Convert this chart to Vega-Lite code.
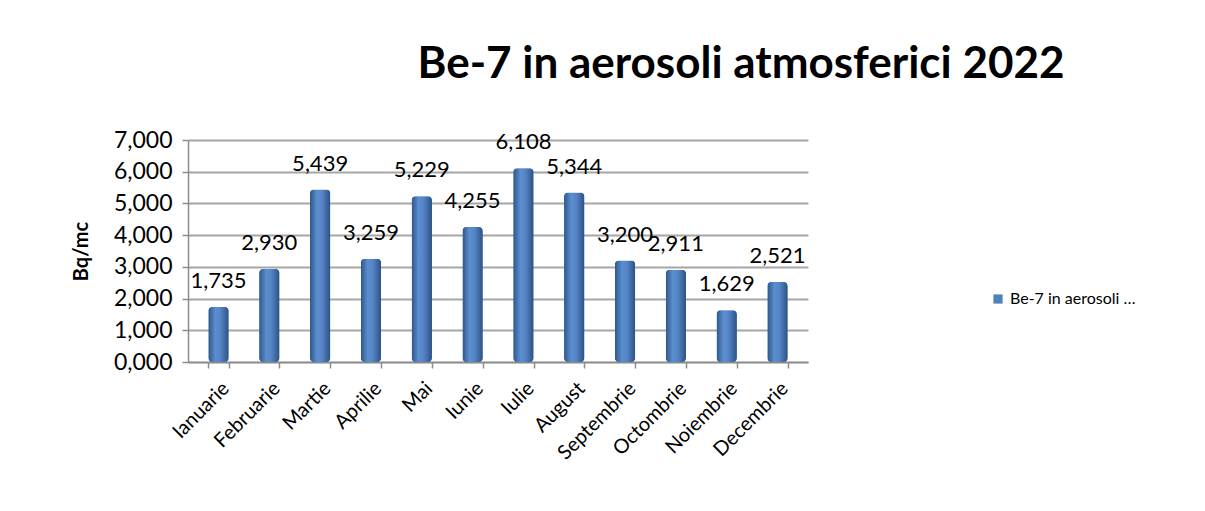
{
  "$schema": "https://vega.github.io/schema/vega-lite/v6.json",
  "autosize": {"type": "none"},
  "width": 620,
  "height": 222,
  "padding": {"left": 188, "top": 140, "right": 397, "bottom": 149},
  "background": "white",
  "config": {
    "locale": {"number": {"decimal": ",", "thousands": ".", "grouping": [3], "currency": ["", ""]}},
    "font": "Lato",
    "view": {"stroke": null}
  },
  "title": {
    "text": "Be-7 in aerosoli atmosferici 2022",
    "font": "Lato",
    "fontSize": 44,
    "fontWeight": "bold",
    "color": "black",
    "anchor": "middle",
    "frame": "group",
    "dx": 243,
    "offset": 42
  },
  "data": {
    "values": [
      {"luna": "Ianuarie", "valoare": 1.735, "serie": "Be-7 in aerosoli atmosferici 2022"},
      {"luna": "Februarie", "valoare": 2.930, "serie": "Be-7 in aerosoli atmosferici 2022"},
      {"luna": "Martie", "valoare": 5.439, "serie": "Be-7 in aerosoli atmosferici 2022"},
      {"luna": "Aprilie", "valoare": 3.259, "serie": "Be-7 in aerosoli atmosferici 2022"},
      {"luna": "Mai", "valoare": 5.229, "serie": "Be-7 in aerosoli atmosferici 2022"},
      {"luna": "Iunie", "valoare": 4.255, "serie": "Be-7 in aerosoli atmosferici 2022"},
      {"luna": "Iulie", "valoare": 6.108, "serie": "Be-7 in aerosoli atmosferici 2022"},
      {"luna": "August", "valoare": 5.344, "serie": "Be-7 in aerosoli atmosferici 2022"},
      {"luna": "Septembrie", "valoare": 3.200, "serie": "Be-7 in aerosoli atmosferici 2022"},
      {"luna": "Octombrie", "valoare": 2.911, "serie": "Be-7 in aerosoli atmosferici 2022"},
      {"luna": "Noiembrie", "valoare": 1.629, "serie": "Be-7 in aerosoli atmosferici 2022"},
      {"luna": "Decembrie", "valoare": 2.521, "serie": "Be-7 in aerosoli atmosferici 2022"}
    ]
  },
  "encoding": {
    "x": {
      "field": "luna",
      "type": "nominal",
      "sort": null,
      "scale": {"paddingInner": 0.6, "paddingOuter": 0.4},
      "axis": {
        "title": null,
        "labelAngle": -45,
        "labelFontSize": 20,
        "labelColor": "black",
        "labelFont": "Lato",
        "domainColor": "#8c8c8c",
        "domainWidth": 1.5,
        "tickColor": "#8c8c8c",
        "tickSize": 6,
        "tickWidth": 1.5,
        "tickBand": "extent",
        "labelPadding": 10
      }
    },
    "y": {
      "field": "valoare",
      "type": "quantitative",
      "scale": {"domain": [0, 7]},
      "axis": {
        "title": "Bq/mc",
        "titleFontSize": 20,
        "titleFontWeight": "bold",
        "titleColor": "black",
        "titlePadding": 22,
        "values": [0, 1, 2, 3, 4, 5, 6, 7],
        "format": ".3f",
        "labelFontSize": 23,
        "labelColor": "black",
        "labelPadding": 10,
        "domainColor": "#8c8c8c",
        "domainWidth": 1.5,
        "tickColor": "#8c8c8c",
        "tickSize": 6,
        "tickWidth": 1.5,
        "gridColor": "#a6a6a6",
        "gridWidth": 2
      }
    }
  },
  "layer": [
    {
      "mark": {"type": "bar", "cornerRadius": 4},
      "encoding": {
        "color": {
          "field": "serie",
          "type": "nominal",
          "scale": {"range": ["#4f81bd"]},
          "legend": {
            "title": null,
            "orient": "none",
            "legendX": 802,
            "legendY": 151,
            "symbolType": "square",
            "symbolSize": 85,
            "labelFontSize": 16,
            "labelFont": "Lato",
            "labelColor": "black",
            "labelLimit": 127
          }
        }
      }
    },
    {
      "mark": {
        "type": "bar",
        "cornerRadius": 4,
        "color": {
          "gradient": "linear",
          "x1": 0, "x2": 1, "y1": 0, "y2": 0,
          "stops": [
            {"offset": 0, "color": "#2f5689"},
            {"offset": 0.35, "color": "#5b8fd0"},
            {"offset": 0.6, "color": "#5584c4"},
            {"offset": 1, "color": "#2c5286"}
          ]
        }
      }
    },
    {
      "mark": {"type": "text", "dy": -26, "fontSize": 22, "font": "Lato", "color": "black"},
      "encoding": {
        "text": {"field": "valoare", "type": "quantitative", "format": ".3f"}
      }
    }
  ]
}
